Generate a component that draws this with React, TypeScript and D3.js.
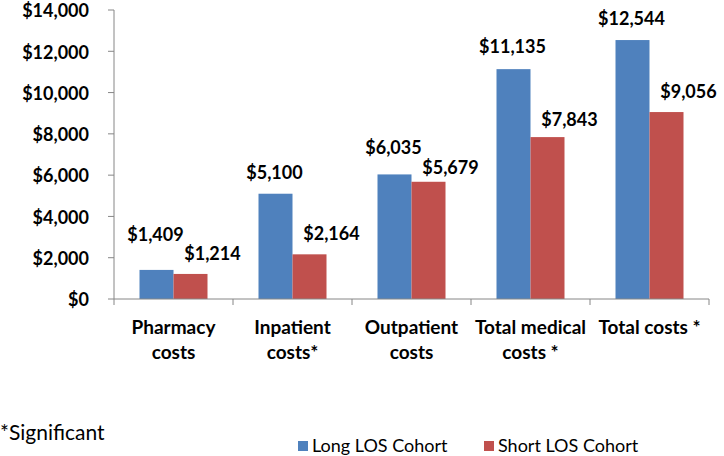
import React from "react";
import * as d3 from "d3";

const categories = [
  ["Pharmacy", "costs"],
  ["Inpatient", "costs*"],
  ["Outpatient", "costs"],
  ["Total medical", "costs *"],
  ["Total costs *"],
];
const seriesNames = ["Long LOS Cohort", "Short LOS Cohort"];
const longLOS = [1409, 5100, 6035, 11135, 12544];
const shortLOS = [1214, 2164, 5679, 7843, 9056];
const yTicks = [0, 2000, 4000, 6000, 8000, 10000, 12000, 14000];
const footnote = "*Significant";

const colors = ["#4F81BD", "#C0504D"];
// annotation lift above bar top (label layout, not data)
const labelLift = [
  [35, 21, 27, 22, 21],
  [20, 21, 14, 17, 20],
];

export default function App() {
  const W = 724, H = 456;
  const left = 114, right = 709, top = 10, bottom = 299;
  const x = d3.scaleBand<number>().domain(d3.range(categories.length)).range([left, right]);
  const y = d3.scaleLinear().domain([0, 14000]).range([bottom, top]);
  const fmt = (v: number) => "$" + d3.format(",")(v);
  const barW = 34;
  const series = [longLOS, shortLOS];
  const font = "Lato, 'Open Sans', sans-serif";

  return (
    <svg width={W} height={H} style={{ position: "absolute", left: 0, top: 0, background: "#fff" }} fontFamily={font}>
      {series.map((s, si) =>
        s.map((v, i) => {
          const bx = (x(i) as number) + (x.bandwidth() - 2 * barW) / 2 + si * barW;
          return (
            <rect key={`b${si}-${i}`} x={bx} y={y(v)} width={barW} height={bottom - y(v)} fill={colors[si]} />
          );
        })
      )}
      <line x1={left} x2={left} y1={top} y2={bottom} stroke="#868686" strokeWidth={1} />
      <line x1={left} x2={right} y1={bottom} y2={bottom} stroke="#868686" strokeWidth={1} />
      {yTicks.map((t) => (
        <g key={`yt${t}`}>
          <line x1={left - 6} x2={left} y1={y(t)} y2={y(t)} stroke="#868686" />
          <text x={89} y={y(t) + 1} dy="0.35em" textAnchor="end" fontWeight="bold" fontSize={18} fill="#000">
            {fmt(t)}
          </text>
        </g>
      ))}
      {d3.range(categories.length + 1).map((i) => {
        const px = left + i * x.step();
        return <line key={`xt${i}`} x1={px} x2={px} y1={bottom} y2={bottom + 6} stroke="#868686" />;
      })}
      {categories.map((lines, i) => (
        <text key={`cl${i}`} textAnchor="middle" fontWeight="bold" fontSize={19} fill="#000">
          {lines.map((ln, li) => (
            <tspan key={li} x={(x(i) as number) + x.bandwidth() / 2} y={327 + li * 25} dy="0.35em">
              {ln}
            </tspan>
          ))}
        </text>
      ))}
      {series.map((s, si) =>
        s.map((v, i) => {
          const bx = (x(i) as number) + (x.bandwidth() - 2 * barW) / 2 + si * barW + barW / 2;
          return (
            <text
              key={`vl${si}-${i}`}
              x={bx + (si === 1 ? 22 : -1)}
              y={y(v) - labelLift[si][i]}
              dy="0.35em"
              textAnchor="middle"
              fontWeight="bold"
              fontSize={18}
              fill="#000"
            >
              {fmt(v)}
            </text>
          );
        })
      )}
      <text x={0} y={433} dy="0.35em" fontSize={21} fill="#000">
        {footnote}
      </text>
      {seriesNames.map((n, i) => {
        const lx = [298, 484][i];
        return (
          <g key={`lg${i}`}>
            <rect x={lx} y={441} width={10} height={10} fill={colors[i]} />
            <text x={lx + 14} y={446} dy="0.35em" fontSize={18} fill="#000">
              {n}
            </text>
          </g>
        );
      })}
    </svg>
  );
}
